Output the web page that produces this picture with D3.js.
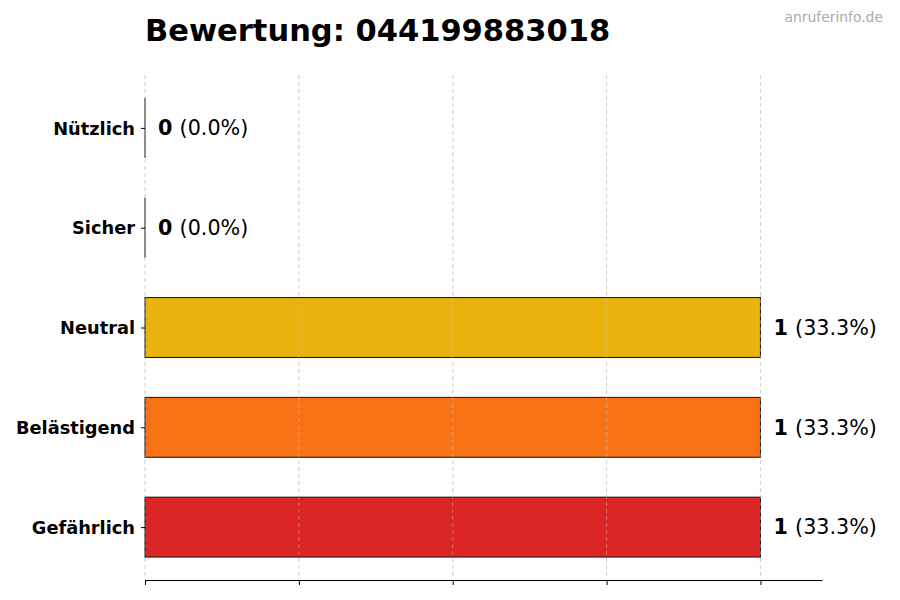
<!DOCTYPE html>
<html><head><meta charset="utf-8">
<script src="https://cdn.jsdelivr.net/npm/d3@7/dist/d3.min.js"></script>
<style>body{margin:0;background:#fff}svg{display:block;font-family:"DejaVu Sans",sans-serif}</style>
</head><body><svg id="c" width="900" height="600"></svg>
<script>
const categories = ["Nützlich","Sicher","Neutral","Belästigend","Gefährlich"];
const values = [0,0,1,1,1];
const percents = ["0.0%","0.0%","33.3%","33.3%","33.3%"];
const colors = ["#22c55e","#3b82f6","#e8b30c","#f97316","#dc2626"];
const xTicks = [0,0.25,0.5,0.75,1.0];
const title = "Bewertung: 044199883018";
const watermark = "anruferinfo.de";

const svg = d3.select("#c");
const L=145, R=822, T=75, B=580;
const x = d3.scaleLinear().domain([0,1.1]).range([L,R]);
const y = d3.scaleLinear().domain([-0.53,4.53]).range([T,B]);

// grid
svg.append("g").selectAll("line").data(xTicks).join("line")
  .attr("x1",d=>x(d)).attr("x2",d=>x(d)).attr("y1",T).attr("y2",B)
  .attr("stroke","#d0d0d0").attr("stroke-width",0.8).attr("stroke-dasharray","4,3");

// bars
const bh = y(0.3)-y(0);
svg.append("g").selectAll("rect").data(categories).join("rect")
  .attr("x",x(0)).attr("y",(d,i)=>y(i)-bh)
  .attr("width",(d,i)=>x(values[i])-x(0)).attr("height",bh*2)
  .attr("fill",(d,i)=>colors[i]).attr("stroke","#111").attr("stroke-width",1);
// edge lines for zero-width bars
svg.append("g").selectAll("line").data(categories.filter((d,i)=>values[i]===0)).join("line")
  .attr("x1",x(0)).attr("x2",x(0))
  .attr("y1",d=>y(categories.indexOf(d))-bh).attr("y2",d=>y(categories.indexOf(d))+bh)
  .attr("stroke","#111").attr("stroke-width",1);

// grid over bars (faint)
svg.append("g").selectAll("line").data(xTicks).join("line")
  .attr("x1",d=>x(d)).attr("x2",d=>x(d)).attr("y1",T).attr("y2",B)
  .attr("stroke","#cccccc").attr("stroke-opacity",0.55).attr("stroke-width",0.8).attr("stroke-dasharray","4,3");

// x axis
const xa = svg.append("g").attr("transform",`translate(0,${B})`)
  .call(d3.axisBottom(x).tickValues(xTicks).tickFormat("").tickSize(5).tickSizeOuter(0));
xa.select(".domain").attr("stroke","#000").attr("stroke-width",1.2);
xa.selectAll(".tick line").attr("stroke","#000");

// y axis (no spine)
const ya = svg.append("g").attr("transform",`translate(${L},0)`)
  .call(d3.axisLeft(y).tickValues(d3.range(categories.length)).tickFormat(i=>categories[i]).tickSize(4));
ya.select(".domain").remove();
ya.selectAll(".tick line").attr("stroke","#000");
ya.selectAll(".tick text").attr("font-size",17.8).attr("font-weight","bold").attr("fill","#000")
  .attr("font-family","DejaVu Sans").attr("x",-10).attr("dy","0.35em");

// value labels
const lab = svg.append("g").selectAll("text").data(categories).join("text")
  .attr("x",(d,i)=>x(values[i])+13).attr("y",(d,i)=>y(i)).attr("dy","0.35em")
  .attr("font-size",20.7).attr("fill","#000");
lab.append("tspan").attr("font-weight","bold").text((d,i)=>values[i]+" ");
lab.append("tspan").text((d,i)=>"("+percents[i]+")");

svg.append("text").attr("x",L).attr("y",41).attr("font-size",30.5).attr("font-weight","bold").text(title);
svg.append("text").attr("x",883).attr("y",22).attr("text-anchor","end").attr("font-size",13.9).attr("fill","#aaaaaa").text(watermark);
</script></body></html>
